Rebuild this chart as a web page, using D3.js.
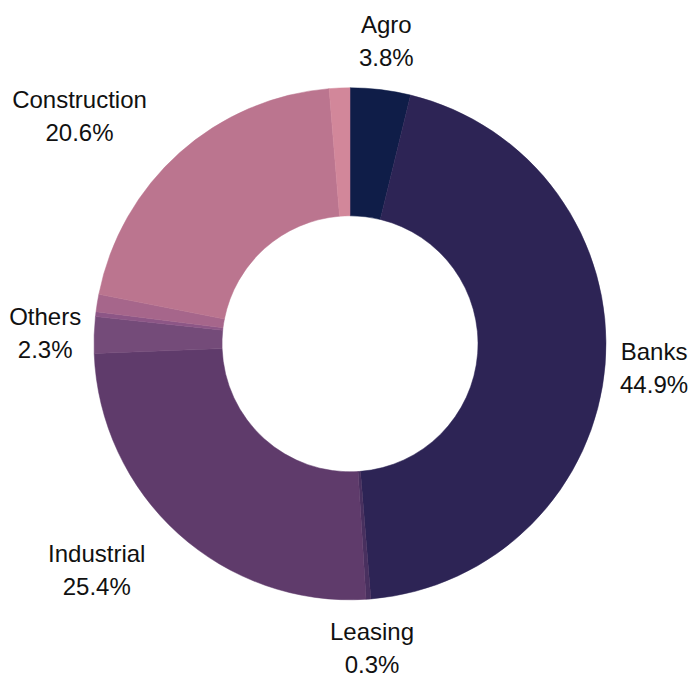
<!DOCTYPE html>
<html>
<head>
<meta charset="utf-8">
<script src="https://cdn.jsdelivr.net/npm/d3@7"></script>
<style>
  html, body { margin: 0; padding: 0; background: #fff; }
  text { font-family: "Liberation Sans", Arial, sans-serif; }
</style>
</head>
<body>
<svg id="chart" width="691" height="677"></svg>
<script>
// Data (clockwise from 12 o'clock)
const categories = ["Agro", "Banks", "Leasing", "Industrial", "Others", "", "", "Construction", ""];
const values     = [3.8, 44.9, 0.3, 25.4, 2.3, 0.3, 1.1, 20.6, 1.3];
const colors     = ["#0f1d48", "#2d2455", "#48305f", "#5f3b6b", "#744b79", "#8c5686", "#a6668b", "#bb758f", "#d2879a"];

const W = 691, H = 677;
const cx = 350, cy = 343.8;
const rOuter = 256, rInner = 128;
const labelR = 305;
const lineGap = 33;

const svg = d3.select("#chart");
const g = svg.append("g").attr("transform", `translate(${cx},${cy})`);

const data = categories.map((c, i) => ({ name: c, value: values[i], color: colors[i] }));
const total = d3.sum(values);

const pie = d3.pie().value(d => d.value).sort(null);
const arc = d3.arc().innerRadius(rInner).outerRadius(rOuter);
const arcs = pie(data);

g.selectAll("path.slice")
  .data(arcs)
  .join("path")
  .attr("class", "slice")
  .attr("d", arc)
  .attr("fill", d => d.data.color)
  .attr("stroke", d => d.data.color)
  .attr("stroke-width", 0.5);

const fmt = d3.format(".1%");

const labelled = arcs.filter(d => d.data.name !== "");
const lg = g.selectAll("g.label")
  .data(labelled)
  .join("g")
  .attr("class", "label");

lg.each(function(d) {
  const sel = d3.select(this);
  const mid = (d.startAngle + d.endAngle) / 2;
  let x = labelR * Math.sin(mid);
  const y = -labelR * Math.cos(mid);
  const t1 = sel.append("text").attr("text-anchor", "middle")
    .attr("font-size", 24).attr("fill", "#111")
    .attr("y", y - lineGap / 2 + 8.6).text(d.data.name);
  const t2 = sel.append("text").attr("text-anchor", "middle")
    .attr("font-size", 24).attr("fill", "#111")
    .attr("y", y + lineGap / 2 + 8.6).text(fmt(d.data.value / total));
  const w = Math.max(t1.node().getComputedTextLength(), t2.node().getComputedTextLength());
  const h = lineGap + 24;
  // nearest point of the label box to the centre
  const nx = Math.max(Math.abs(x) - w / 2, 0);
  const ny = Math.max(Math.abs(y) - h / 2, 0);
  if (Math.hypot(nx, ny) < rOuter) {
    x += Math.sign(x) * w / 2;
  }
  t1.attr("x", x);
  t2.attr("x", x);
});
</script>
</body>
</html>
